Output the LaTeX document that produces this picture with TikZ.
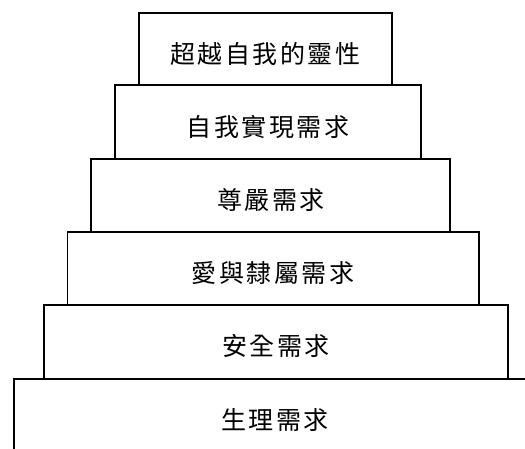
\documentclass[tikz,border=0pt]{standalone}
\usepackage{fontspec}
\newfontfamily\cjk[LetterSpace=10]{Noto Sans CJK TC}
\begin{document}
\begin{tikzpicture}[x=1pt,y=-1pt,
  tier/.style={draw=black,line width=1.8pt,fill=white,inner sep=0pt,anchor=north west},
  tiertext/.style={font=\cjk\fontsize{25}{25}\selectfont,inner sep=0pt}]
\useasboundingbox (0,0) rectangle (525,449);
\begin{scope}
\clip (0,0) rectangle (525,449);
\node[tier,minimum width=520pt,minimum height=78pt] (t6) at (13,378) {};
\end{scope}
\node[tier,minimum width=464.5pt,minimum height=73.5pt] (t5) at (42.7,304) {};
\node[tier,minimum width=411.7pt,minimum height=73pt] (t4) at (66.5,231) {};
\node[tier,minimum width=358.7pt,minimum height=73pt] (t3) at (90.3,158) {};
\node[tier,minimum width=306.3pt,minimum height=73.5pt] (t2) at (113.7,84.5) {};
\node[tier,minimum width=252.7pt,minimum height=72.5pt] (t1) at (138,12) {};
\node[tiertext] (l1) at (265,54) {超越自我的靈性};
\node[tiertext] (l2) at (268,127) {自我實現需求};
\node[tiertext] (l3) at (271,200) {尊嚴需求};
\node[tiertext] (l4) at (273,273) {愛與隸屬需求};
\node[tiertext] (l5) at (276,346) {安全需求};
\node[tiertext] (l6) at (275,420) {生理需求};
\end{tikzpicture}
\end{document}
